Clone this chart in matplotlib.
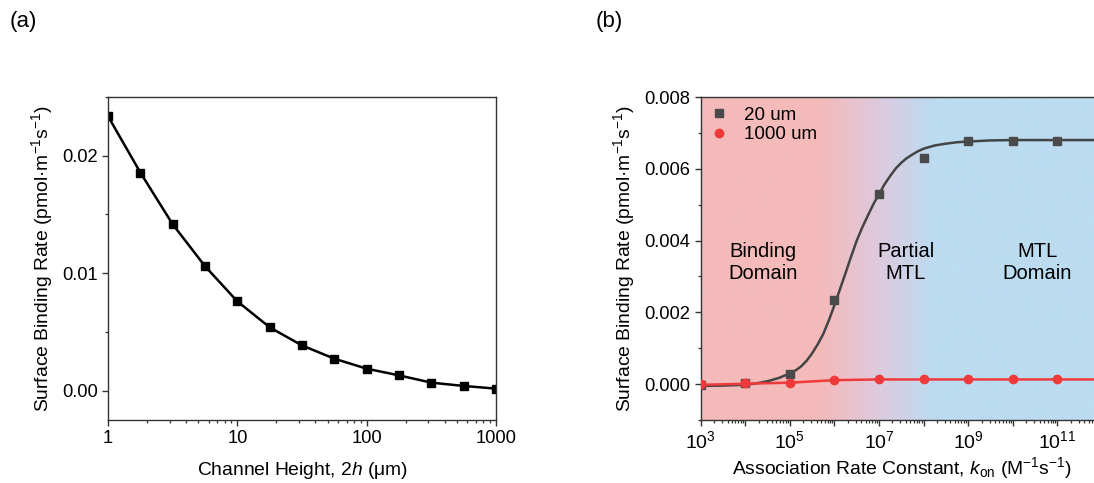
import numpy as np
import matplotlib
matplotlib.use("Agg")
import matplotlib.pyplot as plt
from matplotlib.ticker import LogLocator, MultipleLocator, FixedLocator, NullFormatter, FuncFormatter
from matplotlib.colors import LinearSegmentedColormap

plt.rcParams['font.family'] = ['Liberation Sans', 'DejaVu Sans']
plt.rcParams['mathtext.fontset'] = 'custom'
plt.rcParams['mathtext.rm'] = 'Liberation Sans'
plt.rcParams['mathtext.it'] = 'Liberation Sans:italic'
plt.rcParams['mathtext.bf'] = 'Liberation Sans:bold'

# ---- Panel (a) data ----
height_um = [1, 1.78, 3.16, 5.62, 10, 17.8, 31.6, 56.2, 100, 178, 316, 562, 1000]
rate_a = [0.02337, 0.01856, 0.01417, 0.0106, 0.0076, 0.00539, 0.00385, 0.00272,
          0.00187, 0.0013, 0.00068, 0.0004, 0.00017]

# ---- Panel (b) data ----
kon = [1e3, 1e4, 1e5, 1e6, 1e7, 1e8, 1e9, 1e10, 1e11]
rate_20um = [-0.00003, 0.00002, 0.00028, 0.00234, 0.0053, 0.0063, 0.00678, 0.00678, 0.00678]
rate_1000um = [0.0, 0.00002, 0.00004, 0.00011, 0.00013, 0.00013, 0.00013, 0.00013, 0.00013]
# fitted curve for 20 um
fit_kon = [1e3, 10**3.5, 1e4, 10**4.25, 10**4.5, 10**4.75, 1e5, 10**5.125, 10**5.25, 10**5.375,
           10**5.5, 10**5.625, 10**5.75, 10**5.875, 1e6, 10**6.125, 10**6.25, 10**6.375,
           10**6.5, 10**6.625, 10**6.75, 10**6.875, 1e7, 10**7.125, 10**7.25, 10**7.375,
           10**7.5, 10**7.625, 10**7.75, 10**7.875, 1e8, 10**8.25, 10**8.5, 10**8.75,
           1e9, 10**9.5, 1e10, 1e11, 1e12]
fit_20um = [-0.00005, -0.00004, -0.00002, 0.00002, 0.00008, 0.00017, 0.0003, 0.00038, 0.00049,
            0.00065, 0.00086, 0.00111, 0.0014, 0.00178, 0.0022, 0.00265, 0.0031, 0.00356,
            0.0040, 0.00437, 0.0047, 0.00502, 0.0053, 0.00557, 0.0058, 0.00601,
            0.00617, 0.0063, 0.0064, 0.00649, 0.00656, 0.00665, 0.0067, 0.00674,
            0.00676, 0.00679, 0.0068, 0.0068, 0.0068]
line_1000_kon = [1e3, 1e4, 1e5, 1e6, 1e7, 1e8, 1e9, 1e10, 1e11, 1e12]
line_1000 = [-0.00002, 0.00001, 0.00004, 0.00011, 0.00013, 0.00013, 0.00013, 0.00013, 0.00013, 0.00013]

fig = plt.figure(figsize=(10.94, 4.83), dpi=100)
W, H = 1094, 483

TICK_FS = 13.2
LABEL_FS = 13.9

def style_axes(ax):
    for s in ax.spines.values():
        s.set_linewidth(1.0)
        s.set_color('#333333')
    ax.tick_params(which='major', direction='out', length=4, width=1.0, labelsize=TICK_FS, color='#333333')
    ax.tick_params(which='minor', direction='out', length=2.5, width=0.9, color='#333333')

# ---- Panel (a) ----
axa = fig.add_axes([108 / W, 1 - 420 / H, 388 / W, 323 / H])
axa.plot(height_um, rate_a, color='black', lw=1.8, marker='s', ms=6, mfc='black', mec='black')
axa.set_xscale('log')
axa.set_xlim(1, 1000)
axa.set_ylim(-0.0025, 0.025)
axa.set_xticks([1, 10, 100, 1000])
axa.set_xticklabels(['1', '10', '100', '1000'])
axa.xaxis.set_minor_locator(LogLocator(base=10, subs=np.arange(2, 10)))
axa.xaxis.set_minor_formatter(NullFormatter())
axa.set_yticks([0.0, 0.01, 0.02])
axa.set_yticklabels(['0.00', '0.01', '0.02'])
axa.yaxis.set_minor_locator(MultipleLocator(0.005))
style_axes(axa)
axa.set_xlabel('Channel Height, 2$h$ (μm)', fontsize=LABEL_FS, labelpad=9)
axa.set_ylabel('Surface Binding Rate (pmol·m$^{-1}$s$^{-1}$)', fontsize=LABEL_FS, labelpad=5)
fig.text(10 / W, 1 - 22 / H, '(a)', fontsize=16, va='center', ha='left')

# ---- Panel (b) ----
axb = fig.add_axes([700.7 / W, 1 - 420 / H, 401.3 / W, 323 / H])
axb.set_xscale('log')
axb.set_xlim(1e3, 1e12)
axb.set_ylim(-0.001, 0.008)

# background gradient (red -> blue), in axes fraction
cmap = LinearSegmentedColormap.from_list('rb', [(0.0, '#f5baba'), (0.30, '#f5baba'),
                                               (0.45, '#dccbe0'), (0.58, '#bcdcf1'),
                                               (1.0, '#bcdcf1')])
grad = np.linspace(0, 1, 512).reshape(1, -1)
axb.imshow(grad, aspect='auto', cmap=cmap, extent=[0, 1, 0, 1], transform=axb.transAxes,
           zorder=0, interpolation='bicubic')

axb.plot(fit_kon, fit_20um, color='#444444', lw=1.8, zorder=3)
axb.plot(kon, rate_20um, ls='none', marker='s', ms=6, color='#4a4a4a', zorder=4, label='20 um')
axb.plot(line_1000_kon, line_1000, color='#ee3a3a', lw=1.8, zorder=5)
axb.plot(kon, rate_1000um, ls='none', marker='o', ms=6, color='#ee3a3a', zorder=6, label='1000 um')

axb.xaxis.set_major_locator(FixedLocator([10.0 ** k for k in range(3, 13)]))
def fmt(x, pos):
    e = int(round(np.log10(x)))
    return r'$10^{%d}$' % e if e % 2 == 1 else ''
axb.xaxis.set_major_formatter(FuncFormatter(fmt))
axb.xaxis.set_minor_locator(LogLocator(base=10, subs=np.arange(2, 10), numticks=100))
axb.xaxis.set_minor_formatter(NullFormatter())
axb.set_yticks([0.0, 0.002, 0.004, 0.006, 0.008])
axb.set_yticklabels(['0.000', '0.002', '0.004', '0.006', '0.008'])
axb.yaxis.set_minor_locator(MultipleLocator(0.001))
style_axes(axb)
axb.spines['right'].set_visible(False)
axb.tick_params(axis='x', labelsize=TICK_FS + 0.8)
axb.set_xlabel('Association Rate Constant, $k_{\\mathrm{on}}$ (M$^{-1}$s$^{-1}$)', fontsize=LABEL_FS, labelpad=2)
axb.set_ylabel('Surface Binding Rate (pmol·m$^{-1}$s$^{-1}$)', fontsize=LABEL_FS, labelpad=5)

axb.text(10 ** 4.4, 0.0034, 'Binding\nDomain', fontsize=14.5, ha='center', va='center', linespacing=1.2, zorder=7)
axb.text(10 ** 7.6, 0.0034, 'Partial\nMTL', fontsize=14.5, ha='center', va='center', linespacing=1.2, zorder=7)
axb.text(10 ** 10.55, 0.0034, 'MTL\nDomain', fontsize=14.5, ha='center', va='center', linespacing=1.2, zorder=7)

leg = axb.legend(loc='upper left', frameon=False, fontsize=13.5, handletextpad=0.8,
                 borderaxespad=0.1, labelspacing=0.15, handlelength=1.0, bbox_to_anchor=(0.0, 1.0))
fig.text(596 / W, 1 - 22 / H, '(b)', fontsize=16, va='center', ha='left')

fig.savefig('out.png', dpi=100)
